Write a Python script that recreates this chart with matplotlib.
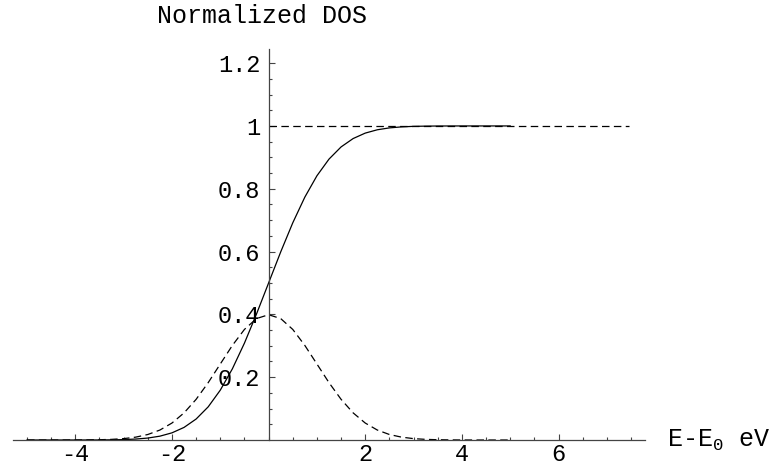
import numpy as np
import matplotlib
matplotlib.use("Agg")
import matplotlib.pyplot as plt
from matplotlib.ticker import FixedLocator, FixedFormatter

# energy grid (E - E0, eV) and curves
energia = [-5.0, -4.75, -4.5, -4.25, -4.0, -3.75, -3.5, -3.25, -3.0, -2.75,
           -2.5, -2.25, -2.0, -1.75, -1.5, -1.25, -1.0, -0.75, -0.5, -0.25,
           0.0, 0.25, 0.5, 0.75, 1.0, 1.25, 1.5, 1.75, 2.0, 2.25,
           2.5, 2.75, 3.0, 3.25, 3.5, 3.75, 4.0, 4.25, 4.5, 4.75, 5.0]

# solid curve: normalized (integrated) DOS
dos_norm = [0.0, 0.0, 0.0, 0.0, 0.0, 0.0001, 0.0002, 0.0006, 0.0013, 0.0030,
            0.0062, 0.0122, 0.0228, 0.0401, 0.0668, 0.1056, 0.1587, 0.2266, 0.3085, 0.4013,
            0.5, 0.5987, 0.6915, 0.7734, 0.8413, 0.8944, 0.9332, 0.9599, 0.9772, 0.9878,
            0.9938, 0.9970, 0.9987, 0.9994, 0.9998, 0.9999, 1.0, 1.0, 1.0, 1.0, 1.0]

# dashed curve: gaussian DOS
dos_gauss = [0.0, 0.0, 0.0, 0.0, 0.0001, 0.0004, 0.0009, 0.0020, 0.0044, 0.0091,
             0.0175, 0.0317, 0.0540, 0.0863, 0.1295, 0.1826, 0.2420, 0.3011, 0.3521, 0.3867,
             0.3989, 0.3867, 0.3521, 0.3011, 0.2420, 0.1826, 0.1295, 0.0863, 0.0540, 0.0317,
             0.0175, 0.0091, 0.0044, 0.0020, 0.0009, 0.0004, 0.0001, 0.0, 0.0, 0.0, 0.0]

# dashed asymptote at 1
asint_x = [0.0, 7.45]
asint_y = [1.0, 1.0]

x_mayores = [-4, -2, 2, 4, 6]
x_etiquetas = ["-4", "-2", "2", "4", "6"]
y_mayores = [0.2, 0.4, 0.6, 0.8, 1.0, 1.2]
y_etiquetas = ["0.2", "0.4", "0.6", "0.8", "1", "1.2"]

plt.rcParams['font.family'] = ['Liberation Mono', 'DejaVu Sans Mono']

W, H = 777, 468
fig = plt.figure(figsize=(W / 100, H / 100), dpi=100)
ax = fig.add_axes([13 / W, (H - 440) / H, (645 - 13) / W, (440 - 49) / H])
ax.set_xlim(-5.29, 7.79)
ax.set_ylim(0, 1.245)

lw = 0.9
ax.plot(energia, dos_norm, color='black', lw=lw)
ax.plot(energia, dos_gauss, color='black', lw=lw, dashes=[6, 3.5])
ax.plot(asint_x, asint_y, color='black', lw=lw, dashes=[6, 3.5])

# axes crossing at the origin, Mathematica style
for s in ['top', 'right']:
    ax.spines[s].set_visible(False)
ax.spines['left'].set_position(('data', 0))
ax.spines['bottom'].set_position(('data', 0))
for s in ['left', 'bottom']:
    ax.spines[s].set_color('#444444')
    ax.spines[s].set_linewidth(0.9)
ax.patch.set_visible(False)

ax.xaxis.set_major_locator(FixedLocator(x_mayores))
ax.xaxis.set_major_formatter(FixedFormatter(x_etiquetas))
ax.xaxis.set_minor_locator(FixedLocator(np.arange(-5.0, 7.6, 0.5)))
ax.yaxis.set_major_locator(FixedLocator(y_mayores))
ax.yaxis.set_major_formatter(FixedFormatter(y_etiquetas))
ax.yaxis.set_minor_locator(FixedLocator(np.arange(0.05, 1.245, 0.05)))

ax.tick_params(which='both', direction='in', color='#444444', width=0.8)
ax.tick_params(which='major', length=4, labelsize=17)
ax.tick_params(axis='y', which='major', pad=6)
ax.tick_params(axis='x', which='major', pad=2)
ax.tick_params(which='minor', length=2.5)

fig.text(157 / W, 1 - 16 / H, "Normalized DOS", fontsize=18, va='center', ha='left')
fig.text(667 / W, 1 - 440 / H, r"E-E$_\mathregular{0}$ eV", fontsize=18, va='center', ha='left')

fig.savefig("out.png", dpi=100)
